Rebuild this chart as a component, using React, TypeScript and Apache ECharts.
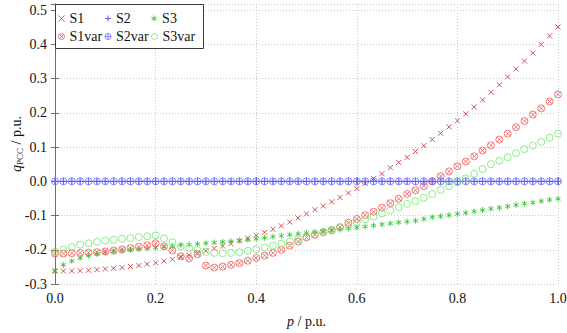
import { useEffect, useRef } from "react";
import * as echarts from "echarts";

// Active power p sampled on a grid of 60 equal steps from 0 to 1 p.u.
const P_STEPS = 60;

// Reactive power at the PCC, q_PCC in p.u., one value per p sample
const s1 = [
  -0.262, -0.262, -0.262, -0.261, -0.26, -0.258, -0.256, -0.254, -0.252, -0.249,
  -0.246, -0.242, -0.238, -0.233, -0.228, -0.222, -0.216, -0.209, -0.203, -0.196,
  -0.189, -0.182, -0.174, -0.166, -0.158, -0.149, -0.14, -0.13, -0.119, -0.107,
  -0.095, -0.083, -0.072, -0.06, -0.047, -0.034, -0.021, -0.006, 0.008, 0.022,
  0.04, 0.055, 0.07, 0.087, 0.104, 0.122, 0.14, 0.159, 0.177, 0.197,
  0.217, 0.238, 0.26, 0.282, 0.305, 0.328, 0.351, 0.375, 0.4, 0.425,
  0.451,
];
const s2 = [
  0, 0, 0, 0, 0, 0, 0, 0, 0, 0,
  0, 0, 0, 0, 0, 0, 0, 0, 0, 0,
  0, 0, 0, 0, 0, 0, 0, 0, 0, 0,
  0, 0, 0, 0, 0, 0, 0, 0, 0, 0,
  0, 0, 0, 0, 0, 0, 0, 0, 0, 0,
  0, 0, 0, 0, 0, 0, 0, 0, 0, 0,
  0,
];
const s3 = [
  -0.262, -0.244, -0.233, -0.224, -0.217, -0.212, -0.208, -0.205, -0.202, -0.2,
  -0.198, -0.196, -0.194, -0.192, -0.188, -0.186, -0.185, -0.183, -0.181, -0.179,
  -0.177, -0.175, -0.173, -0.171, -0.168, -0.165, -0.162, -0.159, -0.156, -0.153,
  -0.151, -0.148, -0.146, -0.143, -0.141, -0.138, -0.135, -0.132, -0.129, -0.126,
  -0.123, -0.12, -0.118, -0.115, -0.11, -0.105, -0.102, -0.099, -0.095, -0.092,
  -0.088, -0.084, -0.08, -0.077, -0.073, -0.069, -0.065, -0.062, -0.058, -0.054,
  -0.051,
];
const s1var = [
  -0.211, -0.211, -0.21, -0.209, -0.208, -0.207, -0.205, -0.202, -0.199, -0.195,
  -0.191, -0.187, -0.181, -0.19, -0.202, -0.219, -0.225, -0.213, -0.246, -0.252,
  -0.249, -0.244, -0.239, -0.232, -0.224, -0.217, -0.209, -0.2, -0.188, -0.176,
  -0.164, -0.156, -0.149, -0.143, -0.134, -0.121, -0.11, -0.099, -0.089, -0.077,
  -0.064, -0.051, -0.037, -0.026, -0.014, 0.0, 0.015, 0.029, 0.044, 0.058,
  0.073, 0.09, 0.105, 0.122, 0.139, 0.158, 0.176, 0.195, 0.213, 0.233,
  0.254,
];
const s2var = [
  0, 0, 0, 0, 0, 0, 0, 0, 0, 0,
  0, 0, 0, 0, 0, 0, 0, 0, 0, 0,
  0, 0, 0, 0, 0, 0, 0, 0, 0, 0,
  0, 0, 0, 0, 0, 0, 0, 0, 0, 0,
  0, 0, 0, 0, 0, 0, 0, 0, 0, 0,
  0, 0, 0, 0, 0, 0, 0, 0, 0, 0,
  0,
];
const s3var = [
  -0.205, -0.2, -0.192, -0.185, -0.181, -0.177, -0.173, -0.171, -0.168, -0.166,
  -0.163, -0.161, -0.158, -0.167, -0.178, -0.19, -0.196, -0.201, -0.206, -0.209,
  -0.21, -0.209, -0.207, -0.203, -0.198, -0.193, -0.188, -0.182, -0.176, -0.169,
  -0.162, -0.155, -0.148, -0.142, -0.135, -0.128, -0.12, -0.111, -0.103, -0.094,
  -0.085, -0.076, -0.066, -0.058, -0.048, -0.037, -0.025, -0.014, -0.003, 0.009,
  0.022, 0.036, 0.05, 0.06, 0.07, 0.082, 0.094, 0.104, 0.115, 0.127,
  0.139,
];

const X_TICKS = [0, 0.2, 0.4, 0.6, 0.8, 1.0];
const Y_MIN = -0.3;
const Y_MAX = 0.518;

const FONT = "Liberation Serif";
const INK = "#111111";
const CLEAR = "rgba(255,255,255,0)";

// Marker outlines (drawn as strokes only)
const MARK_X = "path://M0,0L10,10M10,0L0,10";
const MARK_PLUS = "path://M5,0L5,10M0,5L10,5";
const MARK_STAR = "path://M5,0L5,10M0.67,2.5L9.33,7.5M9.33,2.5L0.67,7.5";
const MARK_OTIMES =
  "path://M10,5A5,5,0,1,1,0,5A5,5,0,1,1,10,5ZM1.46,1.46L8.54,8.54M8.54,1.46L1.46,8.54";
const MARK_OPLUS = "path://M10,5A5,5,0,1,1,0,5A5,5,0,1,1,10,5ZM5,0L5,10M0,5L10,5";
const MARK_O = "path://M10,5A5,5,0,1,1,0,5A5,5,0,1,1,10,5Z";

type SeriesDef = {
  name: string;
  values: number[];
  symbol: string;
  size: number;
  color: string;
};

const SERIES: SeriesDef[] = [
  { name: "S1", values: s1, symbol: MARK_X, size: 5, color: "#c42a2a" },
  { name: "S2", values: s2, symbol: MARK_PLUS, size: 6, color: "#3a3ae6" },
  { name: "S3", values: s3, symbol: MARK_STAR, size: 6, color: "#1fbf1f" },
  { name: "S1var", values: s1var, symbol: MARK_OTIMES, size: 7, color: "#f05a5a" },
  { name: "S2var", values: s2var, symbol: MARK_OPLUS, size: 7, color: "#6b6bff" },
  { name: "S3var", values: s3var, symbol: MARK_O, size: 7, color: "#6fe86f" },
];

const fmt1 = (v: number) => (Math.round(v * 10) / 10).toFixed(1);

export default function App() {
  const ref = useRef<HTMLDivElement>(null);

  useEffect(() => {
    if (!ref.current) return;
    const chart = echarts.init(ref.current, undefined, { renderer: "svg" });

    const axisLine = { show: true, lineStyle: { color: "#6e6e6e", width: 1 } };
    const tick = { show: true, inside: true, length: 4, lineStyle: { color: "#6e6e6e" } };
    const gridLine = { show: true, lineStyle: { color: "#c8c8c8", type: [1, 2], width: 1 } };

    chart.setOption({
      animation: false,
      backgroundColor: "#ffffff",
      grid: {
        left: 55,
        right: 9,
        top: 4,
        bottom: 49,
        containLabel: false,
        outerBoundsMode: "none",
      },
      // frame behind the legend entries
      graphic: [
        {
          type: "rect",
          z: 3,
          silent: true,
          shape: { x: 55.5, y: 4.5, width: 148, height: 44 },
          style: { fill: "#ffffff", stroke: "#3a3a3a", lineWidth: 1 },
        },
      ],
      legend: {
        left: 55,
        top: 4,
        width: 140,
        orient: "horizontal",
        itemWidth: 6,
        itemHeight: 6,
        itemGap: 1,
        padding: [6, 4, 4, 3],
        z: 4,
        selectedMode: false,
        textStyle: {
          fontFamily: FONT,
          fontSize: 14,
          color: INK,
          width: 34,
          lineHeight: 17,
        },
        data: SERIES.map((s) => ({
          name: s.name,
          icon: s.symbol,
          itemStyle: { color: CLEAR, borderColor: s.color, borderWidth: 1 },
        })),
      },
      xAxis: [
        {
          type: "value",
          min: 0,
          max: 1,
          interval: 0.2,
          axisLine,
          axisTick: tick,
          axisLabel: {
            margin: 7,
            fontFamily: FONT,
            fontSize: 14,
            color: INK,
            formatter: (v: number) =>
              X_TICKS.some((t) => Math.abs(t - v) < 1e-9) ? fmt1(v) : "",
          },
          splitLine: gridLine,
          name: "{i|p} / p.u.",
          nameLocation: "middle",
          nameGap: 29,
          nameMoveOverlap: false,
          nameTextStyle: {
            fontFamily: FONT,
            fontSize: 14,
            color: INK,
            lineHeight: 16,
            rich: { i: { fontFamily: FONT, fontSize: 14, fontStyle: "italic", color: INK } },
          },
        },
        {
          type: "value",
          position: "top",
          min: 0,
          max: 1,
          interval: 0.2,
          axisLine,
          axisTick: tick,
          axisLabel: { show: false },
          splitLine: { show: false },
        },
      ],
      yAxis: [
        {
          type: "value",
          min: Y_MIN,
          max: Y_MAX,
          interval: 0.1,
          axisLine,
          axisTick: tick,
          axisLabel: {
            margin: 8,
            fontFamily: FONT,
            fontSize: 14,
            color: INK,
            showMaxLabel: false,
            formatter: (v: number) => fmt1(v),
          },
          splitLine: gridLine,
          name: "{i|q}{s|PCC} / p.u.",
          nameLocation: "middle",
          nameGap: 31,
          nameMoveOverlap: false,
          nameTextStyle: {
            fontFamily: FONT,
            fontSize: 14,
            color: INK,
            lineHeight: 16,
            rich: {
              i: { fontFamily: FONT, fontSize: 14, fontStyle: "italic", lineHeight: 16, color: INK },
              s: { fontFamily: FONT, fontSize: 9, lineHeight: 8, verticalAlign: "bottom", color: INK },
            },
          },
        },
        {
          type: "value",
          position: "right",
          min: Y_MIN,
          max: Y_MAX,
          interval: 0.1,
          axisLine,
          axisTick: tick,
          axisLabel: { show: false },
          splitLine: { show: false },
        },
      ],
      series: SERIES.map((s) => ({
        name: s.name,
        type: "scatter",
        xAxisIndex: 0,
        yAxisIndex: 0,
        symbol: s.symbol,
        symbolSize: s.size,
        symbolKeepAspect: true,
        itemStyle: { color: CLEAR, borderColor: s.color, borderWidth: 1 },
        emphasis: { disabled: true },
        data: s.values.map((q, i) => [i / P_STEPS, q]),
      })),
    });

    return () => chart.dispose();
  }, []);

  return (
    <div
      ref={ref}
      style={{ position: "fixed", left: 0, top: 0, width: 567, height: 333, background: "#fff" }}
    />
  );
}
